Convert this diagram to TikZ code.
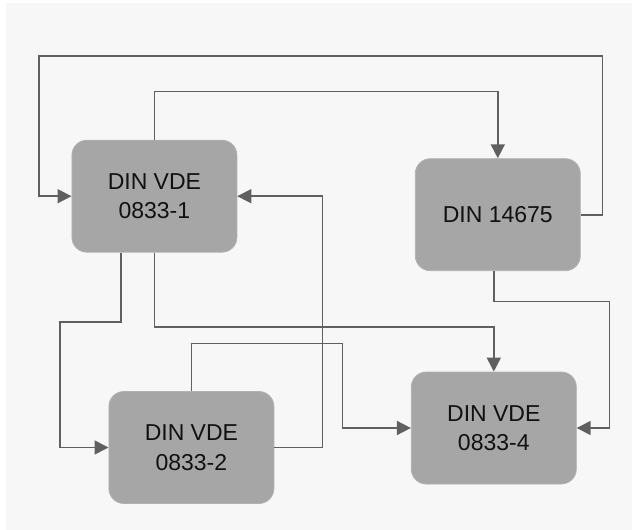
\documentclass[tikz,border=0pt]{standalone}
\usepackage{fontspec}
\setmainfont{Liberation Sans}
\usetikzlibrary{arrows.meta,calc}
\definecolor{bgc}{HTML}{F7F7F7}
\definecolor{boxc}{HTML}{A6A6A6}
\definecolor{boxline}{HTML}{B2B2B2}
\definecolor{linec}{HTML}{606060}
\definecolor{txtc}{HTML}{111111}
\tikzset{
  stdbox/.style={draw=boxline, line width=0.8pt, fill=boxc, rounded corners=15pt,
    minimum width=165pt, minimum height=112pt, inner sep=0pt, align=center,
    text=txtc, font=\fontsize{23}{29.5}\selectfont},
  conn/.style={draw=linec, line width=1.6pt},
  arr/.style={conn, -{Triangle[length=14pt,width=14pt]}}
}
\begin{document}
\begin{tikzpicture}[x=1pt,y=-1pt]
\useasboundingbox (0,0) rectangle (632,530);
\fill[bgc] (6,3) rectangle (632,530);
\node[stdbox] (n1) at (154.4,196.2) {DIN VDE\\0833-1};
\node[stdbox] (n3) at (497.8,214.7) {DIN 14675};
\node[stdbox] (n2) at (191.4,447.5) {DIN VDE\\0833-2};
\node[stdbox] (n4) at (493.8,428) {DIN VDE\\0833-4};
% DIN 14675 -> 0833-1 (outer loop)
\draw[arr] (n3.east) -- (602.6,214.7) |- (38.7,55.8) |- (n1.west);
% 0833-1 -> DIN 14675
\draw[arr] (n1.north) |- (497.8,91.3) -- (n3.north);
% 0833-2 -> 0833-1
\draw[arr] (n2.east) -- (322.4,447.5) |- (n1.east);
% 0833-1 -> 0833-2
\draw[arr] ([xshift=-33.4pt]n1.south) |- (60,321.8) |- (n2.west);
% 0833-1 -> 0833-4
\draw[arr] (n1.south) |- (493.8,327.2) -- (n4.north);
% 0833-2 -> 0833-4
\draw[arr] (n2.north) |- (342.6,343.4) |- (n4.west);
% DIN 14675 -> 0833-4
\draw[arr] ([xshift=-4.1pt]n3.south) |- (609.3,301.6) |- (n4.east);
\end{tikzpicture}
\end{document}
